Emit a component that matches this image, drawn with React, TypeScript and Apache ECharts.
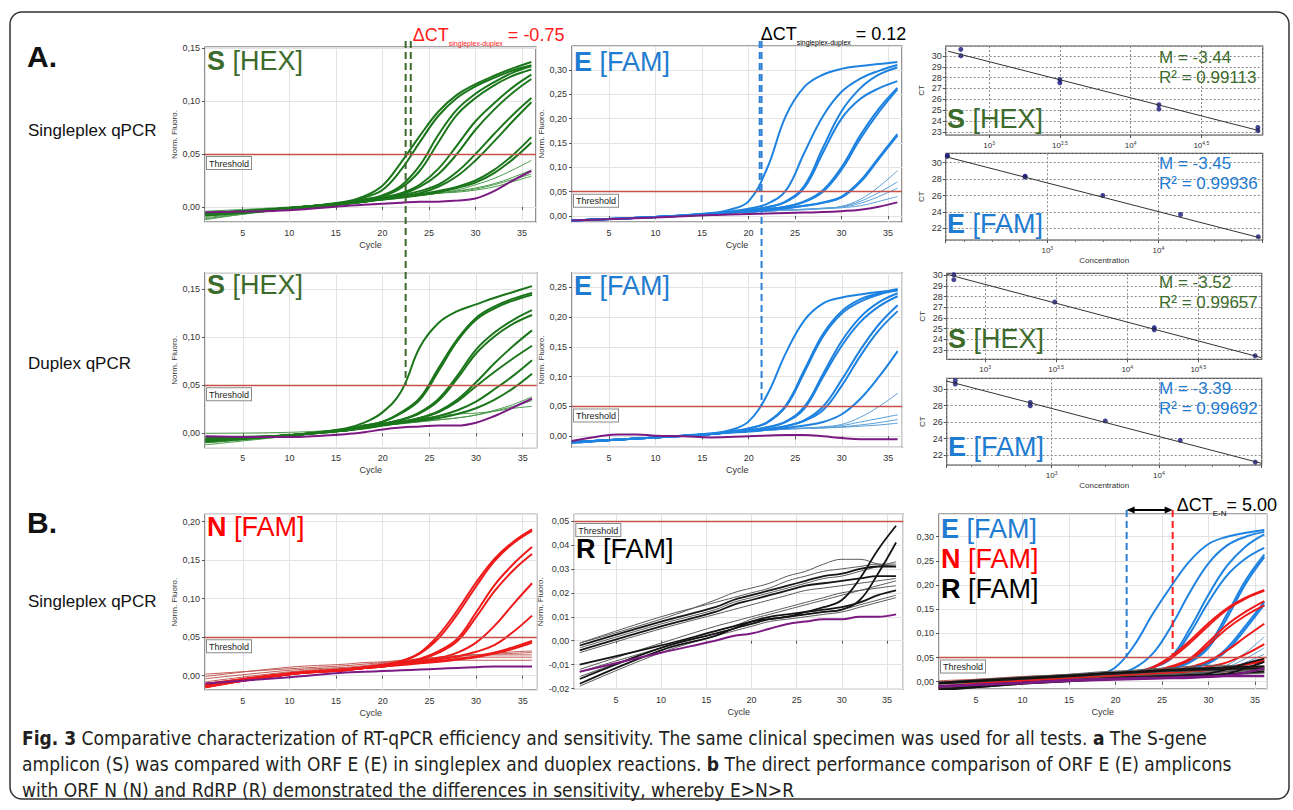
import React, { useEffect, useRef } from "react";
import * as echarts from "echarts";

// ---------------- DATA ----------------
const CYCLES = [1, 10, 16, 18, 20, 22, 24, 26, 28, 30, 32, 34, 36];
const THRESHOLD = 0.05;

// A. singleplex S [HEX]
const S_SINGLE_STRONG = [
  [-0.007, -0.001, 0.005, 0.010, 0.020, 0.042, 0.067, 0.090, 0.106, 0.116, 0.124, 0.131, 0.137],
  [-0.006, -0.001, 0.004, 0.009, 0.016, 0.035, 0.061, 0.086, 0.103, 0.114, 0.122, 0.129, 0.134],
  [-0.006, -0.001, 0.004, 0.007, 0.011, 0.020, 0.039, 0.068, 0.092, 0.107, 0.118, 0.127, 0.133],
  [-0.006, -0.001, 0.004, 0.007, 0.010, 0.018, 0.034, 0.061, 0.087, 0.103, 0.115, 0.124, 0.130],
  [-0.007, -0.001, 0.004, 0.006, 0.009, 0.013, 0.021, 0.036, 0.058, 0.081, 0.098, 0.113, 0.125],
  [-0.007, -0.001, 0.004, 0.006, 0.009, 0.012, 0.019, 0.031, 0.050, 0.073, 0.092, 0.108, 0.121],
  [-0.007, -0.002, 0.003, 0.005, 0.008, 0.011, 0.015, 0.021, 0.033, 0.050, 0.069, 0.087, 0.103],
  [-0.007, -0.002, 0.003, 0.005, 0.008, 0.010, 0.013, 0.019, 0.029, 0.044, 0.062, 0.081, 0.099],
  [-0.008, -0.002, 0.003, 0.005, 0.007, 0.009, 0.012, 0.015, 0.019, 0.025, 0.035, 0.049, 0.066],
  [-0.008, -0.002, 0.003, 0.005, 0.007, 0.009, 0.011, 0.014, 0.018, 0.023, 0.032, 0.045, 0.061],
];
const S_SINGLE_WEAK = [
  [-0.010, -0.002, 0.003, 0.005, 0.007, 0.009, 0.011, 0.013, 0.016, 0.021, 0.027, 0.035, 0.044],
  [-0.011, -0.002, 0.003, 0.005, 0.007, 0.009, 0.011, 0.013, 0.015, 0.018, 0.022, 0.028, 0.035],
  [-0.012, -0.001, 0.003, 0.005, 0.007, 0.009, 0.011, 0.013, 0.015, 0.017, 0.021, 0.026, 0.031],
  [-0.004, 0.000, 0.004, 0.005, 0.007, 0.009, 0.011, 0.013, 0.014, 0.016, 0.019, 0.024, 0.029],
];
const S_SINGLE_NTC = [-0.005, -0.003, 0.001, 0.002, 0.003, 0.004, 0.005, 0.005, 0.006, 0.008, 0.015, 0.025, 0.034];

// A. singleplex E [FAM]
const E_SINGLE_STRONG = [
  [-0.009, -0.002, 0.006, 0.013, 0.030, 0.098, 0.205, 0.265, 0.290, 0.302, 0.308, 0.312, 0.316],
  [-0.009, -0.002, 0.005, 0.009, 0.015, 0.025, 0.052, 0.130, 0.205, 0.255, 0.282, 0.298, 0.310],
  [-0.009, -0.002, 0.005, 0.008, 0.012, 0.018, 0.030, 0.062, 0.140, 0.215, 0.262, 0.290, 0.305],
  [-0.009, -0.002, 0.005, 0.008, 0.012, 0.018, 0.029, 0.058, 0.130, 0.200, 0.240, 0.262, 0.277],
  [-0.009, -0.002, 0.004, 0.007, 0.010, 0.014, 0.019, 0.030, 0.053, 0.100, 0.165, 0.220, 0.263],
  [-0.009, -0.002, 0.004, 0.007, 0.010, 0.014, 0.019, 0.029, 0.050, 0.095, 0.158, 0.213, 0.260],
  [-0.009, -0.002, 0.004, 0.007, 0.009, 0.012, 0.016, 0.021, 0.028, 0.040, 0.072, 0.120, 0.168],
  [-0.009, -0.002, 0.004, 0.007, 0.009, 0.012, 0.016, 0.021, 0.027, 0.038, 0.069, 0.117, 0.165],
];
const E_SINGLE_WEAK = [
  [-0.010, -0.002, 0.004, 0.006, 0.008, 0.010, 0.012, 0.014, 0.016, 0.020, 0.034, 0.060, 0.093],
  [-0.010, -0.002, 0.004, 0.006, 0.008, 0.010, 0.012, 0.014, 0.016, 0.019, 0.030, 0.048, 0.070],
  [-0.010, -0.002, 0.004, 0.006, 0.008, 0.010, 0.012, 0.013, 0.015, 0.018, 0.026, 0.040, 0.057],
  [-0.010, -0.002, 0.004, 0.006, 0.008, 0.010, 0.012, 0.013, 0.015, 0.017, 0.021, 0.030, 0.040],
];
const E_SINGLE_NTC = [-0.009, -0.003, 0.002, 0.003, 0.004, 0.005, 0.006, 0.007, 0.008, 0.010, 0.013, 0.019, 0.028];

// A. duplex S [HEX]
const S_DUPLEX_STRONG = [
  [-0.004, -0.002, 0.005, 0.011, 0.022, 0.044, 0.090, 0.115, 0.127, 0.134, 0.141, 0.147, 0.153],
  [-0.006, -0.002, 0.004, 0.008, 0.012, 0.022, 0.037, 0.068, 0.098, 0.120, 0.132, 0.140, 0.146],
  [-0.006, -0.002, 0.004, 0.008, 0.012, 0.021, 0.035, 0.065, 0.096, 0.118, 0.130, 0.138, 0.144],
  [-0.007, -0.002, 0.004, 0.007, 0.010, 0.014, 0.022, 0.036, 0.060, 0.087, 0.105, 0.118, 0.128],
  [-0.007, -0.002, 0.004, 0.007, 0.010, 0.014, 0.021, 0.034, 0.057, 0.083, 0.101, 0.114, 0.123],
  [-0.008, -0.002, 0.003, 0.006, 0.009, 0.012, 0.016, 0.023, 0.035, 0.053, 0.073, 0.091, 0.107],
  [-0.008, -0.002, 0.003, 0.006, 0.009, 0.012, 0.016, 0.022, 0.033, 0.049, 0.064, 0.078, 0.091],
  [-0.008, -0.002, 0.003, 0.006, 0.009, 0.011, 0.014, 0.018, 0.024, 0.033, 0.046, 0.060, 0.076],
  [-0.009, -0.002, 0.003, 0.005, 0.008, 0.011, 0.013, 0.016, 0.020, 0.026, 0.035, 0.047, 0.062],
];
const S_DUPLEX_WEAK = [
  [0.000, 0.001, 0.004, 0.006, 0.008, 0.011, 0.015, 0.018, 0.020, 0.021, 0.023, 0.026, 0.028],
  [-0.012, -0.003, 0.003, 0.005, 0.008, 0.010, 0.012, 0.014, 0.016, 0.019, 0.024, 0.030, 0.038],
  [-0.010, -0.003, 0.003, 0.005, 0.008, 0.010, 0.012, 0.014, 0.016, 0.019, 0.023, 0.028, 0.034],
];
const S_DUPLEX_NTC = [-0.003, -0.004, -0.001, 0.001, 0.004, 0.006, 0.007, 0.008, 0.008, 0.011, 0.018, 0.027, 0.036];

// A. duplex E [FAM]
const E_DUPLEX_STRONG = [
  [-0.010, -0.002, 0.005, 0.010, 0.025, 0.070, 0.140, 0.195, 0.223, 0.233, 0.238, 0.242, 0.245],
  [-0.010, -0.002, 0.004, 0.008, 0.013, 0.024, 0.052, 0.112, 0.172, 0.210, 0.230, 0.240, 0.247],
  [-0.010, -0.002, 0.004, 0.008, 0.013, 0.023, 0.050, 0.108, 0.168, 0.206, 0.226, 0.238, 0.245],
  [-0.010, -0.002, 0.004, 0.007, 0.010, 0.015, 0.025, 0.050, 0.105, 0.160, 0.200, 0.225, 0.240],
  [-0.010, -0.002, 0.004, 0.007, 0.010, 0.015, 0.024, 0.047, 0.100, 0.152, 0.192, 0.218, 0.235],
  [-0.010, -0.002, 0.004, 0.007, 0.009, 0.012, 0.017, 0.027, 0.050, 0.095, 0.145, 0.188, 0.220],
  [-0.010, -0.002, 0.004, 0.007, 0.009, 0.012, 0.017, 0.026, 0.044, 0.085, 0.135, 0.178, 0.210],
  [-0.010, -0.002, 0.004, 0.006, 0.008, 0.011, 0.014, 0.018, 0.024, 0.037, 0.063, 0.100, 0.143],
];
const E_DUPLEX_WEAK = [
  [-0.012, -0.002, 0.003, 0.006, 0.008, 0.010, 0.012, 0.014, 0.016, 0.020, 0.032, 0.050, 0.072],
  [-0.012, -0.002, 0.003, 0.006, 0.008, 0.010, 0.012, 0.014, 0.015, 0.018, 0.024, 0.030, 0.036],
  [-0.012, -0.002, 0.003, 0.006, 0.008, 0.010, 0.012, 0.013, 0.014, 0.016, 0.019, 0.023, 0.028],
  [-0.012, -0.002, 0.003, 0.006, 0.008, 0.010, 0.012, 0.013, 0.014, 0.015, 0.017, 0.019, 0.022],
];
const E_DUPLEX_NTC_CYCLES = [1, 4, 6, 8, 10, 13, 16, 20, 24, 26, 28, 30, 32, 36];
const E_DUPLEX_NTC = [-0.008, 0.000, 0.003, 0.003, 0.001, 0.000, -0.002, 0.000, 0.002, 0.002, 0.000, -0.003, -0.005, -0.005];

// B. E [FAM] (comparison run)
const E_B_STRONG = [
  [-0.012, -0.002, 0.006, 0.013, 0.030, 0.075, 0.140, 0.198, 0.250, 0.285, 0.300, 0.308, 0.314],
  [-0.012, -0.002, 0.005, 0.009, 0.015, 0.028, 0.058, 0.115, 0.185, 0.245, 0.282, 0.300, 0.310],
  [-0.012, -0.002, 0.005, 0.008, 0.012, 0.018, 0.030, 0.052, 0.110, 0.180, 0.240, 0.280, 0.305],
  [-0.012, -0.002, 0.005, 0.008, 0.012, 0.018, 0.029, 0.048, 0.100, 0.165, 0.220, 0.255, 0.277],
  [-0.012, -0.002, 0.004, 0.007, 0.010, 0.014, 0.019, 0.028, 0.042, 0.075, 0.140, 0.210, 0.263],
  [-0.012, -0.002, 0.004, 0.007, 0.010, 0.014, 0.019, 0.027, 0.040, 0.070, 0.132, 0.203, 0.258],
  [-0.012, -0.002, 0.004, 0.006, 0.009, 0.012, 0.016, 0.021, 0.028, 0.038, 0.065, 0.110, 0.160],
  [-0.012, -0.002, 0.004, 0.006, 0.009, 0.012, 0.016, 0.021, 0.028, 0.040, 0.070, 0.116, 0.165],
];

// B. N [FAM]
const N_STRONG = [
  [-0.012, 0.003, 0.008, 0.011, 0.014, 0.019, 0.030, 0.053, 0.085, 0.121, 0.152, 0.174, 0.190],
  [-0.013, 0.002, 0.008, 0.011, 0.014, 0.019, 0.029, 0.049, 0.080, 0.116, 0.149, 0.172, 0.188],
  [-0.014, 0.002, 0.008, 0.010, 0.013, 0.017, 0.022, 0.032, 0.048, 0.082, 0.118, 0.145, 0.167],
  [-0.014, 0.002, 0.008, 0.010, 0.013, 0.017, 0.021, 0.030, 0.045, 0.076, 0.110, 0.137, 0.158],
  [-0.015, 0.002, 0.007, 0.010, 0.012, 0.015, 0.019, 0.023, 0.030, 0.043, 0.065, 0.093, 0.120],
  [-0.015, 0.002, 0.007, 0.010, 0.012, 0.015, 0.018, 0.021, 0.025, 0.031, 0.040, 0.057, 0.078],
  [-0.012, 0.002, 0.007, 0.010, 0.012, 0.015, 0.017, 0.019, 0.022, 0.025, 0.030, 0.037, 0.045],
  [-0.011, 0.003, 0.008, 0.010, 0.012, 0.014, 0.016, 0.018, 0.021, 0.024, 0.029, 0.035, 0.043],
];
const N_WEAK = [
  [-0.001, 0.011, 0.015, 0.017, 0.018, 0.020, 0.022, 0.024, 0.026, 0.027, 0.028, 0.029, 0.030],
  [0.002, 0.009, 0.013, 0.015, 0.017, 0.019, 0.021, 0.023, 0.025, 0.027, 0.029, 0.031, 0.032],
  [-0.004, 0.007, 0.011, 0.013, 0.016, 0.018, 0.021, 0.024, 0.026, 0.027, 0.027, 0.027, 0.027],
  [-0.008, 0.005, 0.010, 0.012, 0.015, 0.017, 0.020, 0.023, 0.024, 0.024, 0.024, 0.024, 0.024],
  [-0.010, 0.003, 0.009, 0.011, 0.014, 0.016, 0.018, 0.019, 0.020, 0.020, 0.020, 0.020, 0.020],
];
const N_NTC = [-0.010, -0.002, 0.004, 0.005, 0.006, 0.007, 0.008, 0.009, 0.010, 0.011, 0.012, 0.012, 0.012];

// B. R [FAM]
const R_STRONG = [
  [-0.016, -0.003, 0.003, 0.005, 0.008, 0.009, 0.010, 0.012, 0.014, 0.017, 0.026, 0.038, 0.048],
  [-0.018, -0.004, 0.002, 0.005, 0.007, 0.009, 0.010, 0.011, 0.012, 0.013, 0.017, 0.028, 0.041],
  [-0.010, -0.002, 0.004, 0.006, 0.008, 0.010, 0.011, 0.012, 0.013, 0.014, 0.016, 0.019, 0.021],
  [-0.002, 0.008, 0.014, 0.017, 0.019, 0.021, 0.023, 0.025, 0.027, 0.028, 0.030, 0.031, 0.031],
  [-0.004, 0.006, 0.012, 0.015, 0.017, 0.019, 0.021, 0.023, 0.024, 0.025, 0.026, 0.027, 0.027],
];
const R_WEAK = [
  [-0.001, 0.009, 0.017, 0.020, 0.022, 0.024, 0.027, 0.029, 0.032, 0.034, 0.034, 0.032, 0.031],
  [-0.003, 0.007, 0.013, 0.016, 0.018, 0.020, 0.022, 0.024, 0.026, 0.027, 0.029, 0.031, 0.033],
  [-0.005, 0.005, 0.011, 0.013, 0.015, 0.017, 0.019, 0.021, 0.022, 0.023, 0.024, 0.025, 0.026],
  [-0.001, 0.010, 0.016, 0.018, 0.020, 0.022, 0.025, 0.027, 0.029, 0.030, 0.031, 0.032, 0.032],
  [-0.013, -0.003, 0.003, 0.005, 0.007, 0.009, 0.010, 0.011, 0.012, 0.013, 0.015, 0.017, 0.019],
  [-0.019, -0.005, 0.002, 0.004, 0.006, 0.008, 0.009, 0.010, 0.011, 0.012, 0.014, 0.016, 0.018],
  [-0.012, -0.001, 0.006, 0.008, 0.010, 0.012, 0.014, 0.016, 0.018, 0.020, 0.021, 0.022, 0.023],
  [-0.015, -0.003, 0.004, 0.006, 0.009, 0.011, 0.013, 0.015, 0.017, 0.019, 0.021, 0.023, 0.025],
];
const R_NTC = [-0.013, -0.005, 0.000, 0.002, 0.003, 0.005, 0.007, 0.008, 0.009, 0.009, 0.010, 0.010, 0.011];

// Threshold-cycle markers (ΔCT annotations)
const S_CT_MARKS = [22.5, 23.05]; // duplex (long), singleplex (short)
const E_CT_MARKS = [21.4, 21.2]; // duplex (long), singleplex (short)
const EN_CT_MARKS = [21.2, 26.15]; // E, N
const DELTA_S = "-0.75";
const DELTA_E = "0.12";
const DELTA_EN = "5.00";

// Standard curves: log10(concentration) vs CT
const SC_S_SINGLE_LOGC = [2.8, 2.8, 3.5, 3.5, 4.2, 4.2, 4.9, 4.9];
const SC_S_SINGLE_CT = [30.62, 30.03, 27.83, 27.53, 25.5, 25.1, 23.4, 23.1];
const SC_S_SINGLE_FIT_X = [2.71, 4.91];
const SC_S_SINGLE_FIT_Y = [30.45, 23.1];

const SC_E_SINGLE_LOGC = [2.1, 2.1, 2.8, 2.8, 3.5, 4.2, 4.9];
const SC_E_SINGLE_CT = [30.85, 30.75, 28.35, 28.25, 26.0, 23.7, 21.0];
const SC_E_SINGLE_FIT_X = [2.09, 4.92];
const SC_E_SINGLE_FIT_Y = [30.7, 20.85];

const SC_S_DUPLEX_LOGC = [2.78, 2.78, 3.49, 4.19, 4.19, 4.9];
const SC_S_DUPLEX_CT = [30.06, 29.59, 27.5, 25.1, 24.9, 22.46];
const SC_S_DUPLEX_FIT_X = [2.73, 4.94];
const SC_S_DUPLEX_FIT_Y = [30.1, 22.3];

const SC_E_DUPLEX_LOGC = [2.1, 2.1, 2.8, 2.8, 3.5, 4.2, 4.9];
const SC_E_DUPLEX_CT = [31.04, 30.64, 28.4, 28.0, 26.15, 23.8, 21.15];
const SC_E_DUPLEX_FIT_X = [2.02, 4.96];
const SC_E_DUPLEX_FIT_Y = [31.0, 21.0];

const SC_SLOPES = ["-3.44", "-3.45", "-3.52", "-3.39"];
const SC_R2 = ["0.99113", "0.99936", "0.99657", "0.99692"];

// ---------------- STYLE / LAYOUT ----------------
const FF = "'Liberation Sans', Arial, Helvetica, sans-serif";
const FN = "'Liberation Sans Narrow', 'Arial Narrow', 'DejaVu Sans Condensed', 'Liberation Sans', sans-serif";
const GREEN = "#1b761b";
const GREEN_THIN = "#4b9a4b";
const BLUE = "#1e82e0";
const BLUE_THIN = "#5a9fd8";
const RED = "#ee1a1a";
const RED_THIN = "#c25a55";
const BLACK = "#151515";
const GRAY_THIN = "#5a5a5a";
const PURPLE = "#7b1a82";
const LABEL_GREEN = "#3d6b2c";
const LABEL_BLUE = "#1f7cd0";
const THRESH_COLOR = "#c8504a";

const AMP = [
  { left: 205, top: 47, width: 331, height: 175, xMin: 0.95, xMax: 36.5, yMin: -0.0142, yMax: 0.1512, ySplit: 3, yName: true },
  { left: 572, top: 46, width: 330, height: 176, xMin: 1.02, xMax: 36.5, yMin: -0.0123, yMax: 0.349, ySplit: 7, yName: true },
  { left: 205, top: 272.7, width: 331.7, height: 175, xMin: 0.95, xMax: 36.5, yMin: -0.015, yMax: 0.167, ySplit: 4, yName: true },
  { left: 572, top: 272.7, width: 330.3, height: 174.6, xMin: 1.02, xMax: 36.5, yMin: -0.0185, yMax: 0.2745, ySplit: 6, yName: true },
  { left: 205, top: 514.3, width: 331.7, height: 175.7, xMin: 0.95, xMax: 36.5, yMin: -0.0186, yMax: 0.2096, ySplit: 5, yName: true },
  { left: 574.3, top: 514.3, width: 329, height: 175, xMin: 0.4, xMax: 36.8, yMin: -0.0203, yMax: 0.0528, ySplit: 7, yName: true },
  { left: 939, top: 514, width: 327.7, height: 175, xMin: 1.02, xMax: 36.26, yMin: -0.015, yMax: 0.347, ySplit: 7, yName: false },
];

const SC = [
  { left: 945.7, top: 46, width: 317, height: 89, xMin: 2.693, xMax: 4.934, xSplit: 4, yMin: 22.7, yMax: 30.93, ySplit: 8, xName: "" },
  { left: 945.7, top: 153.3, width: 317, height: 86.7, xMin: 2.085, xMax: 4.94, xSplit: 3, yMin: 20.6, yMax: 31.13, ySplit: 5, xName: "Concentration" },
  { left: 946.7, top: 273.3, width: 315, height: 86, xMin: 2.73, xMax: 4.946, xSplit: 4, yMin: 22.13, yMax: 30.19, ySplit: 8, xName: "" },
  { left: 946.7, top: 378.3, width: 315, height: 86.7, xMin: 2.02, xMax: 4.96, xSplit: 3, yMin: 20.8, yMax: 31.33, ySplit: 5, xName: "Concentration" },
];

const fmtComma = (v: number) => v.toFixed(2).replace(".", ",");

function pts(ys: number[], xs: number[] = CYCLES) {
  return xs.map((x, i) => [x, ys[i]]);
}

function curve(grid: number, ys: number[], color: string, width: number, xs?: number[]) {
  return {
    type: "line",
    xAxisIndex: grid,
    yAxisIndex: grid,
    data: pts(ys, xs),
    smooth: 0.4,
    showSymbol: false,
    symbol: "none",
    silent: true,
    lineStyle: { color, width },
  };
}

function thresholdSeries(grid: number) {
  return {
    type: "line",
    xAxisIndex: grid,
    yAxisIndex: grid,
    data: [],
    silent: true,
    z: 1,
    markLine: {
      silent: true,
      symbol: "none",
      animation: false,
      lineStyle: { color: THRESH_COLOR, width: 1.3, type: "solid", opacity: 1 },
      label: {
        show: true,
        position: "insideStartBottom",
        formatter: "Threshold",
        fontSize: 9,
        fontFamily: FF,
        color: "#222",
        backgroundColor: "#fff",
        borderColor: "#8a8a8a",
        borderWidth: 1,
        padding: [2, 2, 1, 2],
        distance: [2, 3],
      },
      data: [{ yAxis: THRESHOLD }],
    },
  };
}

function buildOption() {
  const grid: any[] = [];
  const xAxis: any[] = [];
  const yAxis: any[] = [];
  const series: any[] = [];

  AMP.forEach((p, i) => {
    grid.push({ left: p.left, top: p.top, width: p.width, height: p.height, show: true, borderColor: "#4a4a4a", borderWidth: 1.2, backgroundColor: "#fff" });
    xAxis.push({
      type: "value", gridIndex: i, min: p.xMin, max: p.xMax, splitNumber: 7,
      axisLine: { show: false },
      axisTick: { show: true, length: 3, lineStyle: { color: "#555" } },
      axisLabel: { fontSize: 9, fontFamily: FF, color: "#333", margin: 6, showMinLabel: false, showMaxLabel: false },
      splitLine: { show: true, lineStyle: { color: "#e3e3e3", width: 1 } },
      name: "Cycle", nameLocation: "middle", nameGap: 18,
      nameTextStyle: { fontSize: 9, fontFamily: FF, color: "#333" },
    });
    yAxis.push({
      type: "value", gridIndex: i, min: p.yMin, max: p.yMax, splitNumber: p.ySplit,
      axisLine: { show: false },
      axisTick: { show: true, length: 3, lineStyle: { color: "#555" } },
      axisLabel: { fontSize: 9, fontFamily: FF, color: "#333", margin: 5, formatter: fmtComma, showMinLabel: false, showMaxLabel: false },
      splitLine: { show: true, lineStyle: { color: "#e3e3e3", width: 1 } },
      name: p.yName ? "Norm. Fluoro." : "", nameLocation: "middle", nameGap: 26, nameRotate: 90,
      nameTextStyle: { fontSize: 8, fontFamily: FF, color: "#333" },
    });
    series.push(thresholdSeries(i));
  });

  const addSet = (g: number, sets: number[][], color: string, w: number) => sets.forEach((ys) => series.push(curve(g, ys, color, w)));

  addSet(0, S_SINGLE_WEAK, GREEN_THIN, 1);
  addSet(0, S_SINGLE_STRONG, GREEN, 2);
  series.push(curve(0, S_SINGLE_NTC, PURPLE, 2));

  addSet(1, E_SINGLE_WEAK, BLUE_THIN, 1);
  addSet(1, E_SINGLE_STRONG, BLUE, 2);
  series.push(curve(1, E_SINGLE_NTC, PURPLE, 2));

  addSet(2, S_DUPLEX_WEAK, GREEN_THIN, 1);
  addSet(2, S_DUPLEX_STRONG, GREEN, 2);
  series.push(curve(2, S_DUPLEX_NTC, PURPLE, 2));

  addSet(3, E_DUPLEX_WEAK, BLUE_THIN, 1);
  addSet(3, E_DUPLEX_STRONG, BLUE, 2);
  series.push(curve(3, E_DUPLEX_NTC, PURPLE, 2, E_DUPLEX_NTC_CYCLES));

  addSet(4, N_WEAK, RED_THIN, 1);
  addSet(4, N_STRONG, RED, 2);
  series.push(curve(4, N_NTC, PURPLE, 2));

  addSet(5, R_WEAK, GRAY_THIN, 1);
  addSet(5, R_STRONG, BLACK, 1.8);
  series.push(curve(5, R_NTC, PURPLE, 2));

  addSet(6, E_SINGLE_WEAK, BLUE_THIN, 1);
  addSet(6, E_B_STRONG, BLUE, 2);
  addSet(6, N_WEAK, RED_THIN, 1);
  addSet(6, N_STRONG, RED, 2);
  addSet(6, R_WEAK, GRAY_THIN, 1);
  addSet(6, R_STRONG, BLACK, 1.8);
  series.push(curve(6, E_SINGLE_NTC, PURPLE, 2));
  series.push(curve(6, N_NTC, PURPLE, 2.5));

  const scData = [
    [SC_S_SINGLE_LOGC, SC_S_SINGLE_CT, SC_S_SINGLE_FIT_X, SC_S_SINGLE_FIT_Y],
    [SC_E_SINGLE_LOGC, SC_E_SINGLE_CT, SC_E_SINGLE_FIT_X, SC_E_SINGLE_FIT_Y],
    [SC_S_DUPLEX_LOGC, SC_S_DUPLEX_CT, SC_S_DUPLEX_FIT_X, SC_S_DUPLEX_FIT_Y],
    [SC_E_DUPLEX_LOGC, SC_E_DUPLEX_CT, SC_E_DUPLEX_FIT_X, SC_E_DUPLEX_FIT_Y],
  ];
  SC.forEach((p, k) => {
    const gi = AMP.length + k;
    grid.push({ left: p.left, top: p.top, width: p.width, height: p.height, show: true, borderColor: "#4a4a4a", borderWidth: 1.2, backgroundColor: "#fff" });
    const halfDecades = p.xSplit === 4;
    xAxis.push({
      type: "value", gridIndex: gi, min: p.xMin, max: p.xMax, splitNumber: p.xSplit,
      axisLine: { show: false },
      axisTick: { show: true, length: 3, lineStyle: { color: "#555" } },
      minorTick: { show: !halfDecades, splitNumber: 4, length: 2, lineStyle: { color: "#777" } },
      axisLabel: {
        fontSize: 8, fontFamily: FF, color: "#333", margin: 5, lineHeight: 10,
        showMinLabel: false, showMaxLabel: false,
        formatter: (v: number) => `10{s|${String(v).replace(".", ",")}}`,
        rich: { s: { fontSize: 5, fontFamily: FF, color: "#333", verticalAlign: "top", lineHeight: 5 } },
      },
      splitLine: { show: true, lineStyle: { color: "#8a8a8a", width: 1, type: [2, 2] } },
      name: p.xName, nameLocation: "middle", nameGap: 16,
      nameTextStyle: { fontSize: 8, fontFamily: FF, color: "#333" },
    });
    yAxis.push({
      type: "value", gridIndex: gi, min: p.yMin, max: p.yMax, splitNumber: p.ySplit,
      axisLine: { show: false },
      axisTick: { show: true, length: 3, lineStyle: { color: "#555" } },
      axisLabel: { fontSize: 9, fontFamily: FF, color: "#333", margin: 4, showMinLabel: false, showMaxLabel: false },
      splitLine: { show: true, lineStyle: { color: "#8a8a8a", width: 1, type: [2, 2] } },
      name: "CT", nameLocation: "middle", nameGap: 20, nameRotate: 90,
      nameTextStyle: { fontSize: 8, fontFamily: FF, color: "#333" },
    });
    const [lx, ly, fx, fy] = scData[k];
    series.push({
      type: "line", xAxisIndex: gi, yAxisIndex: gi, data: fx.map((x, i) => [x, fy[i]]),
      showSymbol: false, symbol: "none", silent: true, lineStyle: { color: "#333", width: 1 },
    });
    series.push({
      type: "scatter", xAxisIndex: gi, yAxisIndex: gi, data: lx.map((x, i) => [x, ly[i]]),
      symbol: "circle", symbolSize: 5, silent: true, itemStyle: { color: "#16167a" },
    });
  });

  return { animation: false, backgroundColor: "#fff", grid, xAxis, yAxis, series };
}

function txt(x: number, y: number, text: string, size: number, color: string, extra: any = {}, rich?: any) {
  return {
    type: "text", x, y, silent: true, z: 50,
    style: { text, fill: color, fontSize: size, fontFamily: FF, fontWeight: "normal", align: "left", verticalAlign: "middle", rich, ...extra },
  };
}

function label(x: number, y: number, first: string, rest: string, size: number, color: string) {
  return txt(x, y, `{b|${first}}{n|${rest}}`, size, color, {}, {
    b: { fontSize: size, fontFamily: FF, fontWeight: "bold", fill: color },
    n: { fontSize: size, fontFamily: FF, fontWeight: "normal", fill: color },
  });
}

function delta(x: number, y: number, sub: string, tail: string, size: number, subSize: number, color: string) {
  return txt(x, y, `{m|ΔCT}{s|${sub}}{m|${tail}}`, size, color, {}, {
    m: { fontSize: size, fontFamily: FF, fill: color, lineHeight: size + 6, verticalAlign: "middle" },
    s: { fontSize: subSize, fontFamily: FF, fill: color, lineHeight: subSize + 1, verticalAlign: "bottom" },
  });
}

export default function App() {
  const ref = useRef<HTMLDivElement>(null);
  useEffect(() => {
    if (!ref.current) return;
    const chart = echarts.init(ref.current, undefined, { renderer: "svg" });
    chart.setOption(buildOption() as any);

    const P = (g: number, x: number, y: number) => chart.convertToPixel({ gridIndex: g } as any, [x, y]) as number[];
    const dash = (x: number, y1: number, y2: number, color: string) => ({
      type: "line", silent: true, z: 40,
      shape: { x1: x, y1, x2: x, y2 },
      style: { stroke: color, lineWidth: 2, lineDash: [7, 4] },
    });

    const g: any[] = [];
    g.push({ type: "rect", silent: true, z: 1, shape: { x: 10, y: 12, width: 1279, height: 787, r: 12 }, style: { fill: "none", stroke: "#333", lineWidth: 1.5 } });

    g.push(txt(27, 56, "A.", 30, "#111", { fontWeight: "bold" }));
    g.push(txt(28, 130, "Singleplex qPCR", 17, "#111"));
    g.push(txt(28, 363, "Duplex qPCR", 17, "#111"));
    g.push(txt(27, 522, "B.", 30, "#111", { fontWeight: "bold" }));
    g.push(txt(28, 601, "Singleplex qPCR", 17, "#111"));

    g.push(label(207, 61, "S", " [HEX]", 27, LABEL_GREEN));
    g.push(label(574, 62, "E", " [FAM]", 27, LABEL_BLUE));
    g.push(label(207, 285, "S", " [HEX]", 27, LABEL_GREEN));
    g.push(label(574, 286, "E", " [FAM]", 27, LABEL_BLUE));
    g.push(label(207, 527, "N", " [FAM]", 27, "#ff0000"));
    g.push(label(576, 549, "R", " [FAM]", 27, "#000"));
    g.push(label(941, 529, "E", " [FAM]", 27, LABEL_BLUE));
    g.push(label(941, 559, "N", " [FAM]", 27, "#ff0000"));
    g.push(label(941, 589, "R", " [FAM]", 27, "#000"));

    g.push(label(947, 119, "S", " [HEX]", 27, LABEL_GREEN));
    g.push(label(947, 224, "E", " [FAM]", 27, LABEL_BLUE));
    g.push(label(948, 339, "S", " [HEX]", 27, LABEL_GREEN));
    g.push(label(948, 447, "E", " [FAM]", 27, LABEL_BLUE));

    const mr = [
      [57, 77, LABEL_GREEN],
      [163, 183, LABEL_BLUE],
      [282, 302, LABEL_GREEN],
      [388, 408, LABEL_BLUE],
    ];
    mr.forEach(([y1, y2, c], k) => {
      g.push(txt(1159, y1 as number, `M = ${SC_SLOPES[k]}`, 17, c as string));
      g.push(txt(1159, y2 as number, `R² = ${SC_R2[k]}`, 17, c as string));
    });

    const topY = 41;
    const sLongX = P(0, S_CT_MARKS[0], 0)[0];
    const sShortX = P(0, S_CT_MARKS[1], 0)[0];
    g.push(dash(sLongX, topY, P(2, S_CT_MARKS[0], THRESHOLD)[1], "#3b6a2b"));
    g.push(dash(sShortX, topY, P(0, S_CT_MARKS[1], THRESHOLD)[1], "#3b6a2b"));
    g.push(delta(sShortX + 2, 35, "singleplex-duplex", ` = ${DELTA_S}`, 18, 7, "#ff1a1a"));

    const eLongX = P(1, E_CT_MARKS[0], 0)[0];
    const eShortX = P(1, E_CT_MARKS[1], 0)[0];
    g.push(dash(eLongX, topY, P(3, E_CT_MARKS[0], THRESHOLD)[1], "#2b80d6"));
    g.push(dash(eShortX, topY, P(1, E_CT_MARKS[1], THRESHOLD)[1], "#2b80d6"));
    g.push(delta(eShortX + 1, 34, "singleplex-duplex", ` = ${DELTA_E}`, 18, 7, "#000"));

    const bx = P(6, EN_CT_MARKS[0], 0)[0];
    const rx = P(6, EN_CT_MARKS[1], 0)[0];
    const ay = 510;
    g.push(dash(bx, ay, P(6, EN_CT_MARKS[0], THRESHOLD)[1], "#2b80d6"));
    g.push(dash(rx, ay, P(6, EN_CT_MARKS[1], THRESHOLD)[1], "#ff2020"));
    g.push({ type: "line", silent: true, z: 41, shape: { x1: bx + 3, y1: ay, x2: rx - 3, y2: ay }, style: { stroke: "#000", lineWidth: 1.8 } });
    g.push({ type: "polygon", silent: true, z: 41, shape: { points: [[bx, ay], [bx + 8, ay - 3.5], [bx + 8, ay + 3.5]] }, style: { fill: "#000" } });
    g.push({ type: "polygon", silent: true, z: 41, shape: { points: [[rx, ay], [rx - 8, ay - 3.5], [rx - 8, ay + 3.5]] }, style: { fill: "#000" } });
    g.push(delta(rx + 4, 505, "E-N", `= ${DELTA_EN}`, 18, 8, "#000"));

    const CS = 19;
    const capRich = {
      b: { fontSize: CS, fontFamily: FN, fontWeight: "bold", fill: "#231f20" },
      n: { fontSize: CS, fontFamily: FN, fontWeight: "normal", fill: "#231f20" },
    };
    const cap = (y: number, s: string) => txt(22, y, s, CS, "#231f20", { fontFamily: FN }, capRich);
    g.push(cap(738, "{b|Fig. 3}{n| Comparative characterization of RT-qPCR efficiency and sensitivity. The same clinical specimen was used for all tests. }{b|a}{n| The S-gene}"));
    g.push(cap(764, "{n|amplicon (S) was compared with ORF E (E) in singleplex and duoplex reactions. }{b|b}{n| The direct performance comparison of ORF E (E) amplicons}"));
    g.push(cap(790, "{n|with ORF N (N) and RdRP (R) demonstrated the differences in sensitivity, whereby E>N>R}"));

    chart.setOption({ graphic: { elements: g } } as any);
    return () => chart.dispose();
  }, []);
  return <div ref={ref} style={{ position: "absolute", left: 0, top: 0, width: 1293, height: 810 }} />;
}
